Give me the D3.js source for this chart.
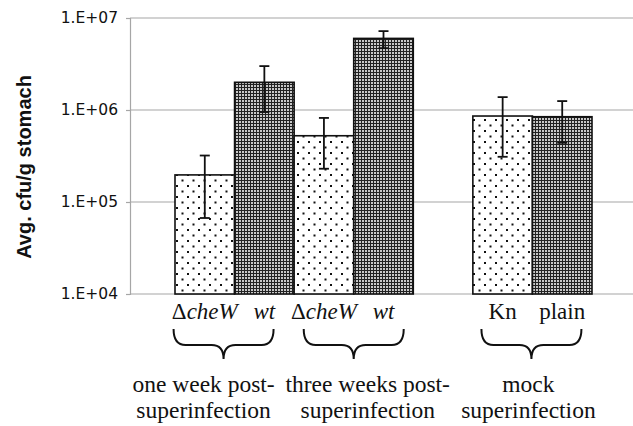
<!DOCTYPE html>
<html>
<head>
<meta charset="utf-8">
<script src="https://cdn.jsdelivr.net/npm/d3@7"></script>
<style>
  body { margin: 0; background: #fff; }
  svg { display: block; }
  .serif { font-family: "Liberation Serif", "DejaVu Serif", "Times New Roman", Times, serif; }
</style>
</head>
<body>
<div id="chart"></div>
<script>
// chart values
const slots = ['1w-cheW', '1w-wt', '3w-cheW', '3w-wt', 'gap', 'mock-Kn', 'mock-plain'];
const bars = ['1w-cheW', '1w-wt', '3w-cheW', '3w-wt', 'mock-Kn', 'mock-plain'];
const means = [1.97e5, 2.0e6, 5.25e5, 6.0e6, 8.6e5, 8.45e5];
const upper = [3.2e5, 3.0e6, 8.2e5, 7.2e6, 1.38e6, 1.25e6];
const lower = [6.7e4, 9.5e5, 2.3e5, 4.7e6, 3.1e5, 4.4e5];
const fills = ['light', 'dark', 'light', 'dark', 'light', 'dark'];
// bar labels as [text, italic] parts
const barLabels = [
  [['Δ', false], ['cheW', true]],
  [['wt', true]],
  [['Δ', false], ['cheW', true]],
  [['wt', true]],
  [['Kn', false]],
  [['plain', false]]
];
const groupBars = [[0, 1], [2, 3], [4, 5]];
const groupLabels = [
  ['one week post-', 'superinfection'],
  ['three weeks post-', 'superinfection'],
  ['mock', 'superinfection']
];
const yTicks = [1e4, 1e5, 1e6, 1e7];
const yTitle = 'Avg. cfu/g stomach';

const width = 633, height = 426;
const margin = { top: 18, right: 0, bottom: 132, left: 130 };
const plotW = width - margin.left - margin.right;
const plotH = height - margin.top - margin.bottom;

const svg = d3.select('#chart').append('svg')
  .attr('width', width)
  .attr('height', height);

// patterns
const defs = svg.append('defs');
const light = defs.append('pattern')
  .attr('id', 'light')
  .attr('patternUnits', 'userSpaceOnUse')
  .attr('width', 11).attr('height', 11);
light.append('rect').attr('width', 11).attr('height', 11).attr('fill', '#fff');
light.append('rect').attr('x', 2).attr('y', 2).attr('width', 2).attr('height', 2).attr('fill', '#111');
light.append('rect').attr('x', 7.5).attr('y', 7.5).attr('width', 2).attr('height', 2).attr('fill', '#111');

const dark = defs.append('pattern')
  .attr('id', 'dark')
  .attr('patternUnits', 'userSpaceOnUse')
  .attr('width', 3).attr('height', 3);
dark.append('rect').attr('width', 3).attr('height', 3).attr('fill', '#222');
dark.append('rect').attr('x', 1).attr('y', 1).attr('width', 2).attr('height', 2).attr('fill', '#c8c8c8');

const g = svg.append('g')
  .attr('transform', `translate(${margin.left},${margin.top})`);

const x = d3.scaleBand()
  .domain(slots)
  .range([45, 462])
  .padding(0);

const y = d3.scaleLog()
  .domain([1e4, 1e7])
  .range([plotH, 0]);

// gridlines
g.append('g')
  .selectAll('line')
  .data(yTicks)
  .enter().append('line')
  .attr('x1', 0)
  .attr('x2', plotW)
  .attr('y1', d => y(d))
  .attr('y2', d => y(d))
  .attr('stroke', '#a6a6a6')
  .attr('stroke-width', 1.2);

// y axis
const yAxis = d3.axisLeft(y)
  .tickValues(yTicks)
  .tickSize(4)
  .tickPadding(8)
  .tickFormat(d => '1.E+0' + Math.round(Math.log10(d)));

const ya = g.append('g').call(yAxis);
ya.select('.domain').attr('stroke', '#a6a6a6').attr('stroke-width', 1.2);
ya.selectAll('.tick line').attr('stroke', '#a6a6a6').attr('stroke-width', 1.2);
ya.selectAll('.tick text')
  .attr('font-family', '"DejaVu Sans", Verdana, sans-serif')
  .attr('font-size', 15.5)
  .attr('fill', '#111');

// bars
g.append('g')
  .selectAll('rect')
  .data(bars)
  .enter().append('rect')
  .attr('x', d => x(d))
  .attr('width', x.bandwidth())
  .attr('y', (d, i) => y(means[i]))
  .attr('height', (d, i) => plotH - y(means[i]))
  .attr('fill', (d, i) => `url(#${fills[i]})`)
  .attr('stroke', '#111')
  .attr('stroke-width', 1.6);

// error bars
const err = g.append('g')
  .selectAll('g')
  .data(bars)
  .enter().append('g')
  .attr('stroke', '#111')
  .attr('stroke-width', 1.8);

const cx = d => x(d) + x.bandwidth() / 2;
err.append('line')
  .attr('x1', cx).attr('x2', cx)
  .attr('y1', (d, i) => y(upper[i]))
  .attr('y2', (d, i) => y(lower[i]));
err.append('line')
  .attr('x1', d => cx(d) - 5).attr('x2', d => cx(d) + 5)
  .attr('y1', (d, i) => y(upper[i]))
  .attr('y2', (d, i) => y(upper[i]));
err.append('line')
  .attr('x1', d => cx(d) - 5).attr('x2', d => cx(d) + 5)
  .attr('y1', (d, i) => y(lower[i]))
  .attr('y2', (d, i) => y(lower[i]));

// bar labels
const bl = g.append('g')
  .selectAll('text')
  .data(bars)
  .enter().append('text')
  .attr('class', 'serif')
  .attr('x', cx)
  .attr('y', plotH + 25)
  .attr('text-anchor', 'middle')
  .attr('font-size', 23)
  .attr('fill', '#111');
bl.each(function (d, i) {
  const t = d3.select(this);
  barLabels[i].forEach(p => {
    t.append('tspan')
      .attr('font-style', p[1] ? 'italic' : 'normal')
      .text(p[0]);
  });
});

// braces and group labels
const groupNudge = [-11, 0, -1];
const labelNudge = [-31, 14, -4];
const braceHalf = 50;
groupBars.forEach((b, gi) => {
  const mid = (x(bars[b[0]]) + x(bars[b[1]]) + x.bandwidth()) / 2;
  const bm = mid + groupNudge[gi];
  const x0 = bm - braceHalf, x1 = bm + braceHalf;
  const y0 = plotH + 35, ym = plotH + 51, yt = plotH + 65, r = 12;
  const path = d3.path();
  path.moveTo(x0, y0);
  path.quadraticCurveTo(x0, ym, x0 + r, ym);
  path.lineTo(bm - r, ym);
  path.quadraticCurveTo(bm, ym, bm, yt);
  path.quadraticCurveTo(bm, ym, bm + r, ym);
  path.lineTo(x1 - r, ym);
  path.quadraticCurveTo(x1, ym, x1, y0);
  g.append('path')
    .attr('d', path.toString())
    .attr('fill', 'none')
    .attr('stroke', '#111')
    .attr('stroke-width', 2);

  const t = g.append('text')
    .attr('class', 'serif')
    .attr('text-anchor', 'middle')
    .attr('font-size', 23.5)
    .attr('fill', '#111');
  groupLabels[gi].forEach((line, li) => {
    t.append('tspan')
      .attr('x', mid + labelNudge[gi])
      .attr('y', plotH + 98 + li * 26)
      .text(line);
  });
});

// y title
svg.append('text')
  .attr('transform', `translate(31,${margin.top + 149}) rotate(-90)`)
  .attr('text-anchor', 'middle')
  .attr('font-family', '"Liberation Sans", Arial, sans-serif')
  .attr('font-weight', 'bold')
  .attr('font-size', 20)
  .attr('fill', '#111')
  .text(yTitle);
</script>
</body>
</html>
